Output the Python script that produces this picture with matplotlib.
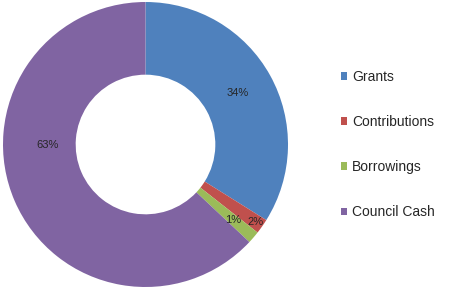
import matplotlib
matplotlib.use("Agg")
import matplotlib.pyplot as plt
import numpy as np

# funding sources (share of total, %)
sources = ["Grants", "Contributions", "Borrowings", "Council Cash"]
shares = [33.9, 1.7, 1.4, 63.0]
colors = ["#4F81BD", "#C0504D", "#9BBB59", "#8064A2"]

# label radius (fraction of outer radius) and optional fixed angle
label_r = [0.74, 0.94, 0.81, 0.69]
label_ang = [None, None, None, 180]

plt.rcParams['font.family'] = ['Liberation Sans', 'DejaVu Sans']

fig = plt.figure(figsize=(4.5, 2.92), dpi=100)
ax = fig.add_axes([3 / 450, 5 / 292, 285 / 450, 285 / 292])

wedges, _ = ax.pie(shares, colors=colors, startangle=90, counterclock=False,
                   radius=1.0, wedgeprops=dict(width=0.51, linewidth=0))

for w, v, r, a in zip(wedges, shares, label_r, label_ang):
    if a is None:
        a = (w.theta1 + w.theta2) / 2.0
    x = r * np.cos(np.radians(a))
    y = r * np.sin(np.radians(a))
    ax.text(x, y, "%.0f%%" % v, ha="center", va="center", fontsize=8, color="#262626")

ax.set_xlim(-1, 1)
ax.set_ylim(-1, 1)
ax.set_aspect("equal")

leg = fig.legend(wedges, sources, loc="center left", bbox_to_anchor=(0.757, 0.505),
                 frameon=False, fontsize=10, labelspacing=2.24, handlelength=0.45,
                 handleheight=0.45, handletextpad=0.35, borderpad=0, borderaxespad=0)
for t in leg.get_texts():
    t.set_color("#262626")

fig.savefig("out.png", dpi=100, facecolor="white")
